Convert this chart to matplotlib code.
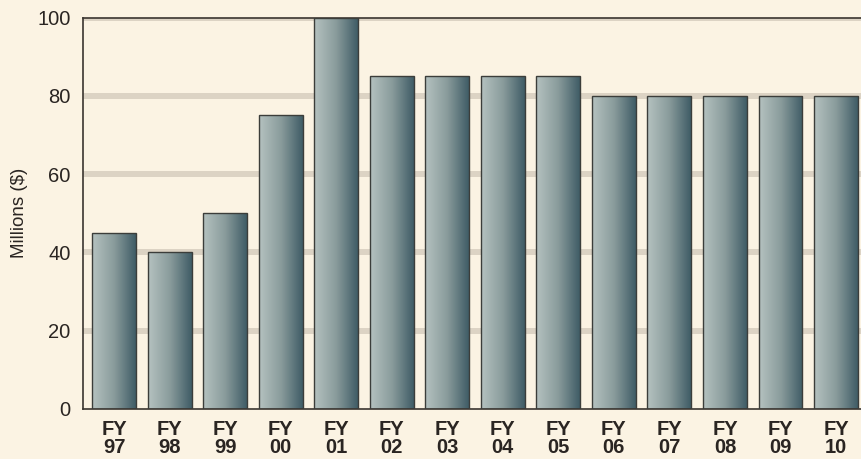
import numpy as np
import matplotlib
matplotlib.use("Agg")
import matplotlib.pyplot as plt
from matplotlib.colors import LinearSegmentedColormap

years = ["97", "98", "99", "00", "01", "02", "03", "04", "05", "06", "07", "08", "09", "10"]
values = [45, 40, 50, 75, 100, 85, 85, 85, 85, 80, 80, 80, 80, 80]
yticks = [0, 20, 40, 60, 80, 100]

bg = "#fbf3e3"
plt.rcParams["font.family"] = ["Liberation Sans", "DejaVu Sans"]

fig = plt.figure(figsize=(8.61, 4.59), dpi=100, facecolor=bg)
ax = fig.add_axes([83 / 861, 50 / 459, 1 - 83 / 861, 391.5 / 459])
ax.set_facecolor(bg)

x = np.arange(len(years))
width = 0.79
bars = ax.bar(x, values, width=width, color="none", edgecolor="#3b3d3a",
              linewidth=1.0, zorder=3)

# horizontal gradient inside each bar
cmap = LinearSegmentedColormap.from_list("bar", ["#b5c2c0", "#8a9c9c", "#3f5c66"])
grad = np.linspace(0, 1, 256).reshape(1, -1)
for b in bars:
    im = ax.imshow(grad, cmap=cmap, aspect="auto", zorder=2,
                   extent=(b.get_x(), b.get_x() + b.get_width(), 0, b.get_height()))
    im.set_clip_path(b)

for t in yticks[1:]:
    ax.axhline(t, color="#dcd3c4", lw=4.3, zorder=1)

ax.set_xlim(-0.56, len(years) - 1 + 0.45)
ax.set_ylim(0, 100)
ax.set_yticks(yticks)
ax.set_yticklabels([str(t) for t in yticks], fontsize=14.5, color="#2a2522")
ax.set_xticks(x)
ax.set_xticklabels(["FY\n" + y for y in years], fontsize=14.5, fontweight="bold",
                   color="#2a2522", linespacing=0.95)
ax.tick_params(axis="y", length=0, pad=9)
ax.tick_params(axis="x", length=0, pad=8)

for s in ["left", "top", "bottom"]:
    ax.spines[s].set_color("#3a3530")
    ax.spines[s].set_linewidth(1.2)
ax.spines["right"].set_visible(False)

fig.text(20 / 861, 1 - 213 / 459, "Millions ($)", rotation=90, fontsize=13.5,
         color="#2a2522", ha="center", va="center")

fig.savefig("out.png", dpi=100, facecolor=bg)
